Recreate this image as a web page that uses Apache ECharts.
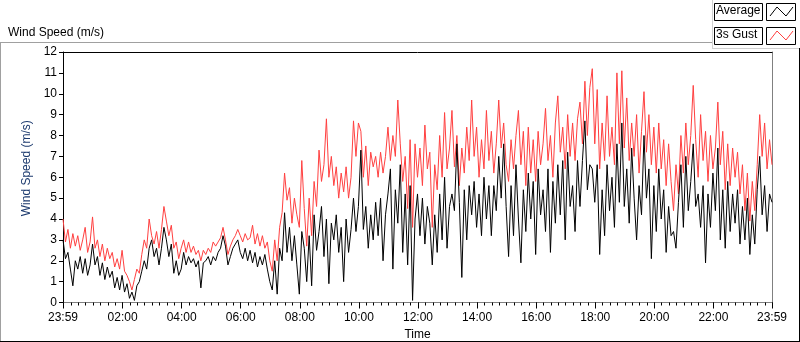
<!DOCTYPE html>
<html><head><meta charset="utf-8">
<script src="https://cdn.jsdelivr.net/npm/echarts@6/dist/echarts.min.js"></script>
<style>html,body{margin:0;padding:0;background:#fff}#c{width:800px;height:342px}</style>
</head><body><div id="c"></div>
<script>
const chartTitle = 'Wind Speed (m/s)';
const yAxisName = 'Wind Speed (m/s)';
const xAxisName = 'Time';
const seriesNames = ['Average', '3s Gust'];
const startMinute = -1;   // 23:59 of previous day
const endMinute = 1439;   // 23:59
const xLabelMinutes = [-1, 120, 240, 360, 480, 600, 720, 840, 960, 1080, 1200, 1320, 1439];
const yMin = 0, yMax = 12, yStep = 1;

// 3s gust (m/s), evenly spaced samples from 23:59 to 23:59
const gust = [
 4.0,2.9,3.5,2.6,3.3,2.7,3.2, 2.5,3.0,3.6,2.4,2.9,4.1, 2.6,3.0,2.2,2.8,2.0,2.6,2.1,
 2.4,1.7,2.1,1.6, 2.5, 1.5,1.3, 1.0,0.6, 1.1,1.6,1.4, 2.3,3.0,2.6,4.0,3.2, 2.8,3.4,2.6,
 3.5,4.6,3.9, 3.2,3.7,2.6,2.9, 2.1,2.6, 3.0,2.4,2.9,2.4,2.7,2.3,2.5, 2.0,2.5,2.3,2.6,2.4,2.9,2.7,
 2.9,3.1,3.6,3.0, 2.3,2.7, 3.0,3.2,3.5,
 3.2,2.9,3.3,3.0,3.1, 3.7,2.8,3.3,2.7,3.2,2.6,2.9, 2.0,1.5, 3.0,2.0, 3.6,4.3, 6.2,4.9,5.5,
 3.8,5.0,4.2,3.6,6.8, 4.5,2.7,5.0,3.2, 5.8,4.6, 7.3,5.8,6.6,8.8,6.0,7.0, 5.6,6.5,5.0,6.2,5.3,
 6.5,5.0,6.0, 8.7,7.0,8.6,8.2, 6.0,7.5,5.6,7.2,6.5, 7.0,6.0,7.2,6.2,7.0, 8.4,6.8,8.0,7.0,9.7,7.6,
 5.8,7.0,4.5,7.8, 3.6, 7.6,
 6.0,7.4,5.6,8.5,6.4, 7.2,3.6,6.6,5.4, 8.0,6.0,9.1,6.4,7.4,9.2, 6.5,8.0,5.6,7.4,6.2,8.4,6.8,9.7,
 7.0,8.4,6.0,7.8,6.4,9.2,6.8, 8.2,6.2,7.6,9.7,7.4,8.6,6.6,5.8, 7.8,6.4,8.0,9.2,6.6,8.2,5.6,
 8.4,6.2,7.8,5.8,8.2,6.6, 7.6,9.3,6.8,8.0,6.0,8.6,9.9,7.2, 8.4,6.4,9.0,7.0,8.6,6.8,8.8,
 9.6,7.6,10.6,8.0,10.3,
 11.2,7.6,10.2,6.4, 8.6,6.8,9.9,7.0, 8.4,6.6,11.0,7.6, 11.1,7.4,9.8,6.8,8.6, 7.0,9.0,6.2,8.2,10.1,
 7.2,9.0,6.6,8.4,6.2,8.6, 6.4,7.8,5.6,7.6,5.8, 4.4,6.6,5.2, 8.0,6.2,8.6,6.6,8.0,10.4,
 7.8,6.0,9.0,6.8,8.2,5.8, 8.0,6.4,7.4,9.6,6.6,8.2,5.4, 7.6,5.6,7.4,6.0,7.2,5.2,6.6,
 4.4,6.2,3.9,5.8,4.4, 6.6,9.0,7.0, 8.6,6.4,7.8,6.6
];

// Average (m/s), same sample times
const avg = [
 3.0,2.1,2.4,1.6,0.8,2.0,1.6, 2.2,1.4,2.1,1.3,1.8,2.8, 1.8,2.2,1.3,1.9,1.1,1.7,1.2,
 1.5,0.7,1.2,0.6, 1.3, 0.5,0.9, 0.2,0.5, 0.1,0.8,1.0, 1.5,2.0,1.6,2.6,3.0, 2.2,2.6,1.8,
 2.6,3.6,3.0, 2.2,2.8,1.4,2.0, 1.3,1.6, 2.4,1.8,2.2,1.9,2.1,1.7,2.0, 0.7,1.9,2.0,2.2,1.8,2.2,2.0,
 2.4,2.6,3.2,2.7, 1.8,2.2, 2.6,2.8,3.0,
 2.4,2.1,2.6,2.0,2.5, 1.9,2.4,1.7,2.2,1.8,2.3,1.6, 1.0,0.6, 2.0,0.4, 2.6,2.0, 4.3,2.4,3.6,
 2.0,3.2,1.8,0.4,3.4, 2.6,1.0,3.2,0.8, 4.2,2.5, 3.4,4.6,2.2,4.0,0.9,3.8, 3.0,4.2,2.4,3.6,1.0,
 4.0,2.4,3.5, 5.0,3.4,4.6,7.3, 3.5,4.6,2.6,4.2,3.0, 4.8,3.2,5.0,2.0,4.2, 5.2,6.4,1.6,5.4,3.8,6.6,
 2.4,5.2,1.8,5.6, 0.1, 4.0,
 5.2,3.2,5.0,2.8,4.6, 3.8,1.8,4.2,2.4, 5.2,3.0,6.0,2.6,4.6,5.2, 4.4,7.6,4.8,1.2,5.4,3.0,5.6,4.2,
 5.8,3.6,5.2,3.2,6.0,4.0,5.6, 3.2,5.6,4.4,7.0,5.0,7.6,4.6,2.2, 5.6,3.2,6.6,4.0,1.9,5.4,3.4,
 6.2,4.0,5.8,2.3,6.4,4.2, 5.4,3.4,6.4,2.4,5.8,3.8,6.6,4.2, 6.8,3.0,7.2,4.6,5.6,3.4,6.8,
 4.6,6.8,8.7,5.4,6.6,
 6.4,4.8,6.6,2.3, 5.4,3.2,6.6,4.4, 6.0,3.6,7.6,4.8, 8.6,4.6,6.4,3.8,7.4, 5.0,3.0,5.6,4.2,8.0,
 5.0,6.4,2.1,5.6,3.4,6.4, 4.0,5.4,2.4,4.6,3.2, 3.4,2.6,4.8, 6.6,3.6,7.0,4.4,5.8,7.6,
 4.6,5.2,3.6,5.6,1.9,5.2, 3.6,6.2,4.4,7.4,3.0,5.4,2.6, 5.8,3.4,5.2,3.8,5.4,2.8,4.6,
 3.0,5.0,2.3,4.2,2.8, 5.4,7.0,4.2, 5.6,3.4,5.2,4.8
];

function toPairs(vals) {
  const n = vals.length;
  const step = (endMinute - startMinute) / (n - 1);
  return vals.map((v, i) => [startMinute + i * step, v]);
}
function fmtTime(m) {
  const mm = ((Math.round(m) % 1440) + 1440) % 1440;
  const h = Math.floor(mm / 60), mi = mm % 60;
  return String(h).padStart(2, '0') + ':' + String(mi).padStart(2, '0');
}
const minorTicks = [];
for (let t = 0; t <= 1425; t += 15) minorTicks.push(t);
minorTicks.unshift(-1); minorTicks.push(1439);

const FONT = 'Liberation Sans';
const chart = echarts.init(document.getElementById('c'), null, { renderer: 'canvas' });
chart.setOption({
  animation: false,
  backgroundColor: '#ffffff',
  textStyle: { fontFamily: FONT },
  title: {
    text: chartTitle, left: 3, top: 22,
    textStyle: { fontSize: 12, fontWeight: 'normal', color: '#000', fontFamily: FONT }
  },
  grid: { left: 63, right: 28, top: 52, bottom: 39.5, containLabel: false, outerBoundsMode: 'none' },
  xAxis: [
    {
      type: 'value', min: startMinute, max: endMinute, position: 'bottom',
      name: xAxisName, nameLocation: 'middle', nameGap: 26,
      nameTextStyle: { fontSize: 12, color: '#000', fontFamily: FONT },
      axisLine: { show: true, onZero: false, lineStyle: { color: '#808080', width: 1 } },
      axisTick: { show: true, customValues: xLabelMinutes, length: 6, lineStyle: { color: '#000', width: 1 } },
      axisLabel: { customValues: xLabelMinutes, formatter: v => fmtTime(v), fontSize: 12, color: '#000', margin: 9, fontFamily: FONT },
      splitLine: { show: false }
    },
    {
      type: 'value', min: startMinute, max: endMinute, position: 'bottom',
      axisLine: { show: false },
      axisTick: { show: true, customValues: minorTicks, length: 3, lineStyle: { color: '#000', width: 1 } },
      axisLabel: { show: false }, splitLine: { show: false }
    },
    {
      type: 'value', min: startMinute, max: endMinute, position: 'top',
      axisLine: { show: true, onZero: false, lineStyle: { color: '#000', width: 1 } },
      axisTick: { show: false }, axisLabel: { show: false }, splitLine: { show: false }
    }
  ],
  yAxis: [
    {
      type: 'value', min: yMin, max: yMax, interval: yStep, position: 'left',
      name: yAxisName, nameLocation: 'middle', nameGap: 15, nameRotate: 90,
      nameTextStyle: { fontSize: 12, color: '#1c3a6e', fontFamily: FONT, padding: [0, 0, 0, 18] },
      axisLine: { show: true, onZero: false, lineStyle: { color: '#000', width: 1 } },
      axisTick: { show: true, length: 4, lineStyle: { color: '#000', width: 1 } },
      axisLabel: { fontSize: 12, color: '#000', margin: 6, fontFamily: FONT },
      splitLine: { show: false }
    },
    {
      type: 'value', min: yMin, max: yMax, position: 'right',
      axisLine: { show: true, onZero: false, lineStyle: { color: '#808080', width: 1 } },
      axisTick: { show: false }, axisLabel: { show: false }, splitLine: { show: false }
    }
  ],
  series: [
    {
      name: seriesNames[1], type: 'line', data: toPairs(gust), showSymbol: false,
      xAxisIndex: 0, yAxisIndex: 0,
      lineStyle: { color: '#ff4040', width: 1 }, itemStyle: { color: '#ff4040' }
    },
    {
      name: seriesNames[0], type: 'line', data: toPairs(avg), showSymbol: false,
      xAxisIndex: 0, yAxisIndex: 0,
      lineStyle: { color: '#000000', width: 1 }, itemStyle: { color: '#000000' }
    }
  ],
  graphic: [
    // outer panel frame
    { type: 'line', shape: { x1: 0, y1: 42.5, x2: 712, y2: 42.5 }, style: { stroke: '#a0a0a0', lineWidth: 1 } },
    { type: 'line', shape: { x1: 0.5, y1: 42, x2: 0.5, y2: 342 }, style: { stroke: '#a0a0a0', lineWidth: 1 } },
    { type: 'line', shape: { x1: 0, y1: 341.5, x2: 800, y2: 341.5 }, style: { stroke: '#000', lineWidth: 1 } },
    { type: 'line', shape: { x1: 799.5, y1: 48, x2: 799.5, y2: 342 }, style: { stroke: '#000', lineWidth: 1 } },
    // legend panel
    { type: 'line', shape: { x1: 712.5, y1: 0, x2: 712.5, y2: 48 }, style: { stroke: '#d0d0d0', lineWidth: 1 } },
    { type: 'line', shape: { x1: 712, y1: 48.5, x2: 799, y2: 48.5 }, style: { stroke: '#d0d0d0', lineWidth: 1 } },
    { type: 'rect', shape: { x: 714.5, y: 3.5, width: 48, height: 17 }, style: { fill: '#fff', stroke: '#000', lineWidth: 1 } },
    { type: 'text', left: 716, top: 5, style: { text: seriesNames[0], fontSize: 12, fill: '#000', fontFamily: FONT } },
    { type: 'rect', shape: { x: 766.5, y: 3.5, width: 29, height: 17 }, style: { fill: '#fff', stroke: '#000', lineWidth: 1 } },
    { type: 'polyline', shape: { points: [[770, 16], [777, 7], [786, 16], [793, 7]] }, style: { stroke: '#000', lineWidth: 1, fill: null } },
    { type: 'rect', shape: { x: 714.5, y: 27.5, width: 48, height: 17 }, style: { fill: '#fff', stroke: '#000', lineWidth: 1 } },
    { type: 'text', left: 716, top: 29, style: { text: seriesNames[1], fontSize: 12, fill: '#000', fontFamily: FONT } },
    { type: 'rect', shape: { x: 766.5, y: 27.5, width: 29, height: 17 }, style: { fill: '#fff', stroke: '#000', lineWidth: 1 } },
    { type: 'polyline', shape: { points: [[770, 40], [777, 31], [786, 40], [793, 31]] }, style: { stroke: '#ff4040', lineWidth: 1, fill: null } }
  ]
});
</script>
</body></html>
